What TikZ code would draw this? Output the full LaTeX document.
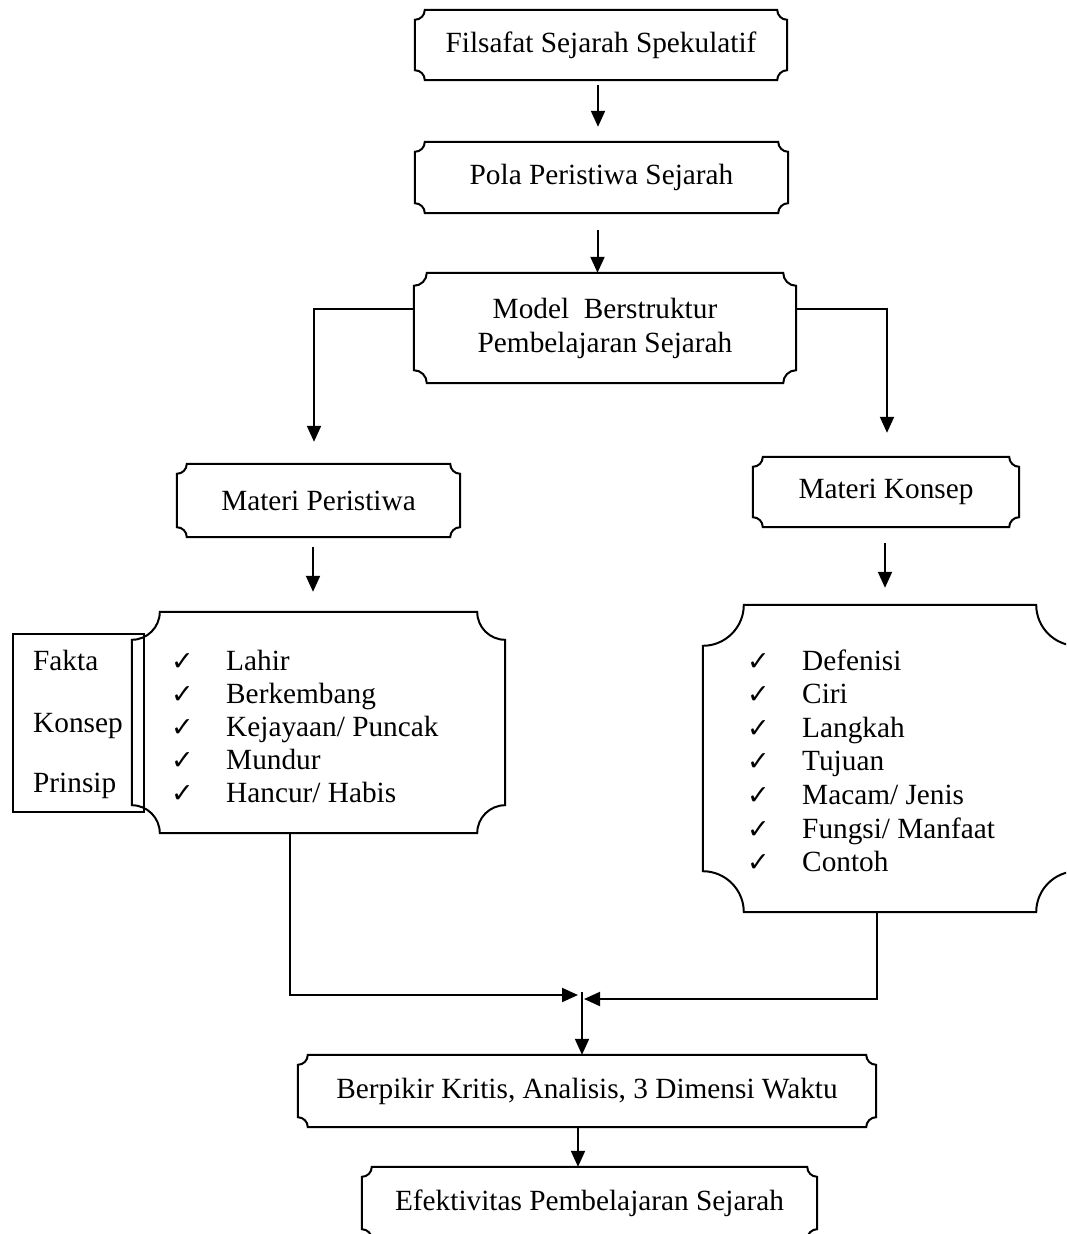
\documentclass[tikz,border=0pt]{standalone}
\usepackage{fontspec}
\setmainfont{Liberation Serif}
\newfontfamily\symfont{DejaVu Sans}
\usetikzlibrary{arrows.meta,calc}

% check mark followed by a fixed gap, so the item texts line up
\newcommand\ck{\makebox[55pt][l]{\symfont\fontsize{27}{27}\selectfont ✓}}

% border of a "plaque" box: rectangle with concave quarter-circle corners
\newcommand\plaqueborder[2]{%
  \draw[plaqueline] let \p1=(#1.south west), \p2=(#1.north east) in
    (\x1,\y1+#2pt) arc[start angle=90,end angle=0,radius=#2pt]
    -- (\x2-#2pt,\y1) arc[start angle=180,end angle=90,radius=#2pt]
    -- (\x2,\y2-#2pt) arc[start angle=270,end angle=180,radius=#2pt]
    -- (\x1+#2pt,\y2) arc[start angle=360,end angle=270,radius=#2pt]
    -- cycle;}

\tikzset{
  box/.style={rectangle, draw=none, inner sep=0pt, align=center,
    font=\fontsize{29.3}{34}\selectfont},
  item/.style={inner sep=0pt, anchor=base west, font=\fontsize{29.3}{34}\selectfont},
  conn/.style={line width=2pt},
  arr/.style={conn, -{Triangle[length=16pt,width=14pt]}},
  plaqueline/.style={line width=2pt},
}

\begin{document}
\begin{tikzpicture}[x=1pt,y=-1pt]
\path[use as bounding box] (0,0) rectangle (1066,1234);
\clip (0,0) rectangle (1066,1234);

% boxes
\node[box, minimum width=372pt, minimum height=70pt] (top) at (601,45) {Filsafat Sejarah Spekulatif};
\node[box, minimum width=373pt, minimum height=71pt] (pola) at (601.5,177.5) {Pola Peristiwa Sejarah};
\node[box, minimum width=382pt, minimum height=110pt] (model) at (605,328) {Model\ \ Berstruktur\\Pembelajaran Sejarah};
\node[box, minimum width=283pt, minimum height=73pt] (mp) at (318.5,500.5) {Materi Peristiwa};
\node[box, minimum width=266pt, minimum height=70pt] (mk) at (886,492) {Materi Konsep};
\node[box, minimum width=373pt, minimum height=221pt] (lp) at (318.5,722.5) {};
\node[box, minimum width=374pt, minimum height=307pt] (rp) at (890,758.5) {};
\node[box, minimum width=578pt, minimum height=72pt] (bk) at (587,1091) {Berpikir Kritis, Analisis, 3 Dimensi Waktu};
\node[box, minimum width=455pt, minimum height=72pt] (ef) at (589.5,1203) {Efektivitas Pembelajaran Sejarah};

% side box with the kinds of material
\node[rectangle, draw, line width=2pt, inner sep=0pt, minimum width=131pt, minimum height=178pt] (fk) at (78.5,723) {};
\node[item] (fk1) at (33,670) {Fakta};
\node[item] (fk2) at (33,732) {Konsep};
\node[item] (fk3) at (33,792) {Prinsip};

\plaqueborder{top}{10}
\plaqueborder{pola}{10}
\plaqueborder{model}{13}
\plaqueborder{mp}{10}
\plaqueborder{mk}{10}
\plaqueborder{lp}{28}
\plaqueborder{rp}{41}
\plaqueborder{bk}{10}
\plaqueborder{ef}{10}

% check lists
\foreach \t [count=\i] in {Lahir, Berkembang, {Kejayaan/ Puncak}, Mundur, {Hancur/ Habis}}
  \node[item] (lpi\i) at (171,{670+33*(\i-1)}) {\ck\t};
\foreach \t [count=\i] in {Defenisi, Ciri, Langkah, Tujuan, {Macam/ Jenis}, {Fungsi/ Manfaat}, Contoh}
  \node[item] (rpi\i) at (747,{670+33.6*(\i-1)}) {\ck\t};

% connectors
\draw[arr, shorten <=5pt, shorten >=15pt] ([xshift=-3pt]top.south) -- ([xshift=-3pt]top.south |- pola.north);
\draw[arr, shorten <=17pt] ([xshift=-4pt]pola.south) -- ([xshift=-4pt]pola.south |- model.north);
\draw[arr] ([yshift=19pt]model.west) -| ([xshift=-4.5pt,yshift=22pt]mp.north);
\draw[arr] ([yshift=19pt]model.east) -| ([xshift=1pt,yshift=24pt]mk.north);
\draw[arr, shorten <=10pt, shorten >=20pt] ([xshift=-5.5pt]mp.south) -- ([xshift=-5.5pt]mp.south |- lp.north);
\draw[arr, shorten <=16pt, shorten >=17pt] ([xshift=-1pt]mk.south) -- ([xshift=-1pt]mk.south |- rp.north);

% joining the two branches
\coordinate (mjL) at (578,995);
\coordinate (mjR) at (584,999);
\coordinate (mjD) at (582,992);
\draw[arr] ([xshift=-28.5pt]lp.south) |- (mjL);
\draw[arr] ([xshift=-13pt]rp.south) |- (mjR);
\draw[arr] (mjD) -- (mjD |- bk.north);
\draw[arr] ([xshift=-9pt]bk.south) -- ([xshift=-9pt]bk.south |- ef.north);
\end{tikzpicture}
\end{document}
